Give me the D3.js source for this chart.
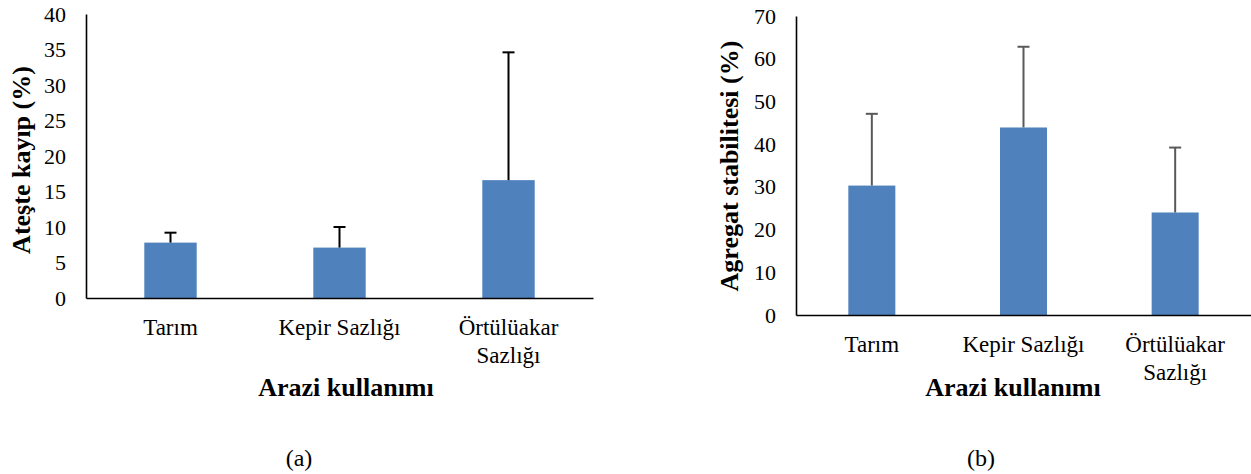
<!DOCTYPE html>
<html>
<head>
<meta charset="utf-8">
<script src="https://cdn.jsdelivr.net/npm/d3@7"></script>
<style>
  html, body { margin: 0; padding: 0; background: #fff; }
  svg { display: block; }
  svg text { font-family: "Liberation Serif", "Times New Roman", serif !important; }
</style>
</head>
<body>
<svg id="chart" width="1251" height="474" font-family="Liberation Serif"></svg>
<script>
// ---- data ----
const categories = ["Tarım", "Kepir Sazlığı", "Örtülüakar Sazlığı"];
const lossValues = [7.8, 7.1, 16.6];        // Ateşte kayıp (%) means
const lossErrors = [1.4, 2.9, 18.0];        // + SD
const lossTicks = [0, 5, 10, 15, 20, 25, 30, 35, 40];
const aggValues = [30.3, 43.9, 24.0];       // Agregat stabilitesi (%) means
const aggErrors = [16.8, 18.9, 15.2];       // + SD
const aggTicks = [0, 10, 20, 30, 40, 50, 60, 70];

const FONT = "Liberation Serif";
const svg = d3.select("#chart");
const BAR = "#4F81BD";

function drawPanel(cfg) {
  const g = svg.append("g");
  const x = d3.scaleBand().domain(categories)
    .range([cfg.left, cfg.right]).paddingInner(0.69).paddingOuter(0.345);
  const y = d3.scaleLinear().domain([0, d3.max(cfg.ticks)]).range([cfg.bottom, cfg.top]);

  // y axis
  const ya = g.append("g").attr("transform", `translate(${cfg.left},0)`)
    .call(d3.axisLeft(y).tickValues(cfg.ticks).tickSize(0).tickPadding(20).tickSizeOuter(0))
    .attr("font-family", FONT).attr("font-size", 22);
  ya.select(".domain").attr("stroke", "#000").attr("stroke-width", 1.6);
  ya.selectAll("text").attr("font-family", FONT).attr("font-size", 22).attr("fill", "#000");

  // bars
  g.selectAll("rect.bar").data(cfg.values).join("rect")
    .attr("class", "bar")
    .attr("x", (d, i) => x(categories[i]))
    .attr("width", x.bandwidth())
    .attr("y", d => y(d))
    .attr("height", d => y(0) - y(d))
    .attr("fill", BAR);

  // error bars (upper only)
  const cx = i => x(categories[i]) + x.bandwidth() / 2;
  const eg = g.append("g").attr("stroke", cfg.errColor).attr("stroke-width", 2).attr("fill", "none");
  cfg.values.forEach((v, i) => {
    eg.append("line").attr("x1", cx(i)).attr("x2", cx(i))
      .attr("y1", y(v)).attr("y2", y(v + cfg.errors[i]));
    eg.append("line").attr("x1", cx(i) - 6).attr("x2", cx(i) + 6)
      .attr("y1", y(v + cfg.errors[i])).attr("y2", y(v + cfg.errors[i]));
  });

  // x axis
  const xa = g.append("g").attr("transform", `translate(0,${cfg.bottom})`)
    .call(d3.axisBottom(x).tickSize(0).tickFormat(""));
  xa.select(".domain").attr("stroke", "#000").attr("stroke-width", 1.6);

  // category labels with wrapping
  categories.forEach((c, i) => {
    const t = g.append("text").attr("text-anchor", "middle")
      .attr("font-family", FONT)
      .attr("font-size", 23).attr("fill", "#000")
      .attr("x", cx(i)).attr("y", cfg.bottom + 37);
    t.text(c);
    if (t.node().getComputedTextLength() > x.step() * 0.95) {
      const words = c.split(" ");
      t.text(null);
      words.forEach((w, k) => {
        t.append("tspan").attr("x", cx(i)).attr("dy", k === 0 ? 0 : 28).text(w);
      });
    }
  });

  // x axis title
  g.append("text").attr("text-anchor", "middle").attr("font-weight", "bold")
    .attr("font-family", FONT)
    .attr("font-size", 26).attr("fill", "#000")
    .attr("x", cfg.titleX).attr("y", 396).text("Arazi kullanımı");

  // y axis title
  g.append("text").attr("text-anchor", "middle").attr("font-weight", "bold")
    .attr("font-family", FONT)
    .attr("font-size", 26).attr("fill", "#000")
    .attr("transform", `translate(${cfg.yTitleX},${cfg.yTitleY}) rotate(-90)`)
    .text(cfg.yTitle);

  // panel label
  g.append("text").attr("text-anchor", "middle").attr("font-size", 24).attr("fill", "#000")
    .attr("font-family", FONT)
    .attr("x", cfg.panelX).attr("y", 466).text(cfg.panel);
}

drawPanel({
  left: 86, right: 593, top: 14, bottom: 298,
  ticks: lossTicks, values: lossValues, errors: lossErrors, errColor: "#000",
  titleX: 346, yTitle: "Ateşte kayıp (%)", yTitleX: 30, yTitleY: 160,
  panel: "(a)", panelX: 299
});
drawPanel({
  left: 796, right: 1251, top: 16, bottom: 315,
  ticks: aggTicks, values: aggValues, errors: aggErrors, errColor: "#595959",
  titleX: 1013, yTitle: "Agregat stabilitesi (%)", yTitleX: 738, yTitleY: 166,
  panel: "(b)", panelX: 981
});
</script>
</body>
</html>
